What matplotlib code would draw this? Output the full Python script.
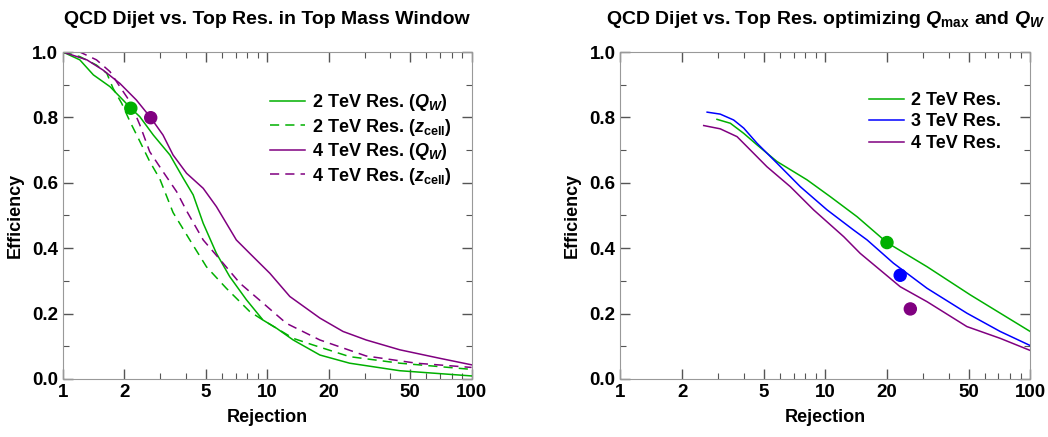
import matplotlib.pyplot as plt
from matplotlib.ticker import FixedLocator, NullFormatter

plt.rcParams["font.family"] = ["Liberation Sans", "DejaVu Sans"]
plt.rcParams["font.weight"] = "bold"
plt.rcParams["mathtext.fontset"] = "custom"
plt.rcParams["mathtext.rm"] = "Liberation Sans:bold"
plt.rcParams["mathtext.it"] = "Liberation Sans:italic:bold"
plt.rcParams["mathtext.bf"] = "Liberation Sans:bold"

GREEN = "#00b000"
BLUE = "#0000ff"
PURPLE = "#800080"

# left panel: top mass window
g_qw_x = [1.0, 1.21, 1.41, 1.70, 1.97, 2.15, 2.38, 2.77, 3.34, 3.88, 4.34, 4.86, 5.64,
          6.55, 7.91, 9.53, 11.1, 13.4, 18.1, 25.3, 44.5, 100]
g_qw_y = [1.0, 0.976, 0.930, 0.894, 0.853, 0.828, 0.802, 0.746, 0.685, 0.614, 0.563, 0.476, 0.384,
          0.313, 0.242, 0.180, 0.155, 0.119, 0.073, 0.048, 0.025, 0.009]
g_zc_x = [1.0, 1.21, 1.46, 1.64, 1.76, 1.94, 2.13, 2.34, 2.66, 2.98, 3.46, 4.18, 5.04,
          6.31, 8.21, 9.53, 13.4, 16.7, 25.3, 44.5, 100]
g_zc_y = [1.0, 0.986, 0.960, 0.935, 0.889, 0.843, 0.787, 0.736, 0.665, 0.612, 0.509, 0.425, 0.343,
          0.277, 0.206, 0.180, 0.124, 0.104, 0.068, 0.048, 0.029]
p_qw_x = [1.0, 1.31, 1.57, 1.90, 2.29, 2.69, 3.09, 3.46, 4.03, 4.86, 5.64, 7.06, 8.21,
          10.3, 12.9, 18.1, 23.5, 30.5, 44.5, 69.8, 100]
p_qw_y = [1.0, 0.976, 0.945, 0.904, 0.853, 0.799, 0.746, 0.685, 0.629, 0.583, 0.527, 0.425, 0.384,
          0.323, 0.252, 0.186, 0.145, 0.119, 0.089, 0.063, 0.043]
p_zc_x = [1.0, 1.21, 1.46, 1.70, 1.90, 2.13, 2.38, 2.66, 3.09, 3.60, 4.03, 4.86, 6.08,
          7.34, 9.53, 12.4, 18.1, 30.5, 53.6, 100]
p_zc_y = [1.0, 1.0, 0.976, 0.940, 0.894, 0.848, 0.777, 0.695, 0.634, 0.573, 0.514, 0.425, 0.354,
          0.293, 0.232, 0.170, 0.119, 0.070, 0.048, 0.035]
dots_left_x = [2.15, 2.69]
dots_left_y = [0.828, 0.799]

# right panel: optimizing Qmax and QW
r2_x = [2.96, 3.44, 4.0, 4.64, 5.81, 8.14, 10.6, 14.3, 20.0, 31.4, 51.0, 71.4, 100]
r2_y = [0.794, 0.782, 0.751, 0.716, 0.665, 0.609, 0.557, 0.496, 0.417, 0.343, 0.257, 0.201, 0.145]
r3_x = [2.65, 3.07, 3.57, 4.0, 4.64, 5.81, 7.55, 10.2, 13.7, 16.0, 21.5, 31.4, 49.1, 71.4, 100]
r3_y = [0.816, 0.810, 0.792, 0.767, 0.721, 0.660, 0.588, 0.517, 0.456, 0.425, 0.354, 0.277, 0.201,
        0.145, 0.102]
r4_x = [2.55, 3.07, 3.71, 4.31, 5.19, 6.75, 8.77, 12.3, 14.8, 23.2, 31.4, 49.1, 71.4, 100]
r4_y = [0.775, 0.765, 0.741, 0.700, 0.649, 0.588, 0.517, 0.435, 0.384, 0.282, 0.236, 0.160, 0.124,
        0.087]
dots_right_x = [20.0, 23.2, 26.0]
dots_right_y = [0.417, 0.317, 0.214]

xticks = [1, 2, 5, 10, 20, 50, 100]
xminor = [3, 4, 6, 7, 8, 9, 30, 40, 60, 70, 80, 90]


def style(ax):
    ax.set_xscale("log")
    ax.set_xlim(1, 100)
    ax.set_ylim(0, 1)
    ax.xaxis.set_major_locator(FixedLocator(xticks))
    ax.xaxis.set_minor_locator(FixedLocator(xminor))
    ax.xaxis.set_minor_formatter(NullFormatter())
    ax.set_xticklabels([str(t) for t in xticks])
    ax.set_yticks([0.0, 0.2, 0.4, 0.6, 0.8, 1.0])
    ax.set_yticklabels(["0.0", "0.2", "0.4", "0.6", "0.8", "1.0"])
    ax.yaxis.set_minor_locator(FixedLocator([0.1, 0.3, 0.5, 0.7, 0.9]))
    ax.tick_params(which="both", direction="in", top=True, right=True,
                   color="#555555", labelsize=13.5)
    ax.tick_params(which="major", length=7, width=1)
    ax.tick_params(which="minor", length=4, width=0.8)
    for s in ax.spines.values():
        s.set_color("#999999")
    ax.set_xlabel("Rejection", fontsize=13, fontweight="bold", labelpad=6)
    ax.set_ylabel("Efficiency", fontsize=13, fontweight="bold", labelpad=6)


fig = plt.figure(figsize=(10.48, 4.37), dpi=100)
ax1 = fig.add_axes([0.060, 0.133, 0.390, 0.748])
ax2 = fig.add_axes([0.592, 0.133, 0.391, 0.748])

ax1.plot(g_qw_x, g_qw_y, color=GREEN, lw=1.1, label="2 TeV Res. $(Q_W)$")
ax1.plot(g_zc_x, g_zc_y, color=GREEN, lw=1.1, ls=(0, (6, 4)), label=r"2 TeV Res. $(z_{\rm cell})$")
ax1.plot(p_qw_x, p_qw_y, color=PURPLE, lw=1.1, label="4 TeV Res. $(Q_W)$")
ax1.plot(p_zc_x, p_zc_y, color=PURPLE, lw=1.1, ls=(0, (6, 4)), label=r"4 TeV Res. $(z_{\rm cell})$")
ax1.scatter(dots_left_x, dots_left_y, c=[GREEN, PURPLE], s=75, zorder=5)
style(ax1)
ax1.set_title("QCD Dijet vs. Top Res. in Top Mass Window", fontsize=14,
              fontweight="bold", pad=20)
ax1.legend(loc="upper left", bbox_to_anchor=(0.49, 0.90), frameon=False,
           fontsize=13, handlelength=1.9, handletextpad=0.4, labelspacing=0.2,
           borderaxespad=0)

ax2.plot(r2_x, r2_y, color=GREEN, lw=1.1, label="2 TeV Res.")
ax2.plot(r3_x, r3_y, color=BLUE, lw=1.1, label="3 TeV Res.")
ax2.plot(r4_x, r4_y, color=PURPLE, lw=1.1, label="4 TeV Res.")
ax2.scatter(dots_right_x, dots_right_y, c=[GREEN, BLUE, PURPLE], s=75, zorder=5)
style(ax2)
ax2.set_title(r"QCD Dijet vs. Top Res. optimizing $Q_{\rm max}$ and $Q_W$", fontsize=14,
              fontweight="bold", pad=20)
ax2.legend(loc="upper left", bbox_to_anchor=(0.59, 0.90), frameon=False,
           fontsize=13, handlelength=1.9, handletextpad=0.4, labelspacing=0.25,
           borderaxespad=0)

fig.savefig("out.png", dpi=100)
